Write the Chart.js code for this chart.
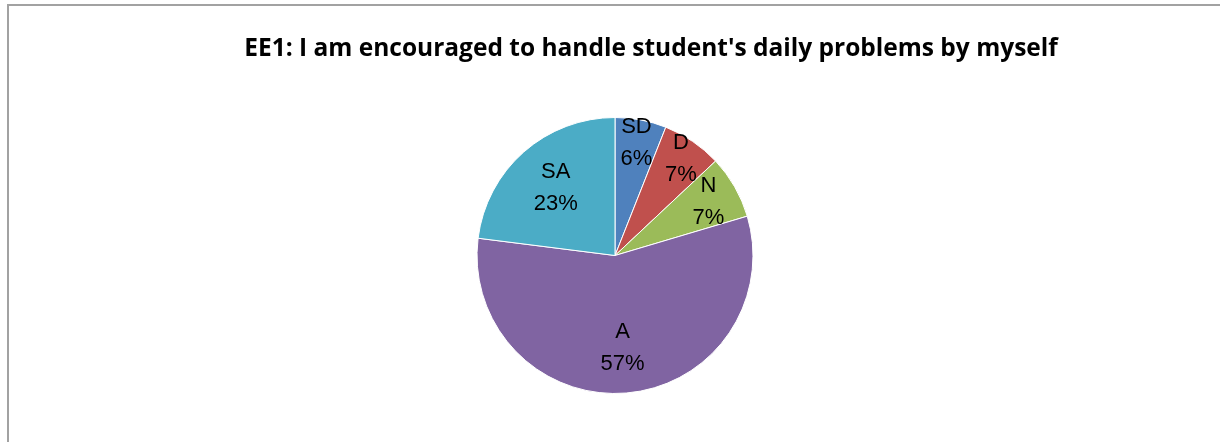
<!DOCTYPE html>
<html>
<head>
<meta charset="utf-8">
<script src="https://cdn.jsdelivr.net/npm/chart.js@4/dist/chart.umd.min.js"></script>
<style>
    body { margin: 0; background: #fff; overflow: hidden; }
    #wrap { position: relative; width: 1220px; height: 442px; overflow: hidden; }
    #frame { position: absolute; left: 7px; top: 4px; width: 1300px; height: 500px; border: 2px solid #a2a2a2; }
    #chart { position: absolute; left: 0; top: 0; }
</style>
</head>
<body>
<div id="wrap">
    <div id="frame"></div>
    <canvas id="chart" width="1220" height="442"></canvas>
</div>
<script>
const titleText = "EE1: I am encouraged to handle student's daily problems by myself";
const categories = ['SD', 'D', 'N', 'A', 'SA'];
const values = [6.0, 7.0, 7.4, 56.6, 23.0];
const colors = ['#4f81bd', '#c0504d', '#9bbb59', '#8064a2', '#4bacc6'];
// how far out each label sits (fraction of radius), like excel's best fit
const labelDist = [0.83, 0.85, 0.78, 0.67, 0.65];

// built-in title squeezes text to the chart box width, so draw it here
const chartTitle = {
    id: 'chartTitle',
    afterDraw(chart, args, opts) {
        let ctx = chart.ctx;
        let area = chart.chartArea;
        ctx.save();
        ctx.font = 'bold 24.5px "Open Sans", sans-serif';
        ctx.fillStyle = '#000';
        ctx.textAlign = 'center';
        ctx.textBaseline = 'alphabetic';
        ctx.fillText(opts.text, (area.left + area.right) / 2 + opts.shiftX, opts.baseline);
        ctx.restore();
    }
};

const pieLabels = {
    id: 'pieLabels',
    afterDatasetsDraw(chart) {
        let ctx = chart.ctx;
        let meta = chart.getDatasetMeta(0);
        let total = values.reduce((a, b) => a + b, 0);
        ctx.save();
        ctx.font = '22px "Liberation Sans", Arial, sans-serif';
        ctx.fillStyle = '#000';
        ctx.textAlign = 'center';
        ctx.textBaseline = 'middle';
        meta.data.forEach((arc, i) => {
            let p = arc.getProps(['x', 'y', 'startAngle', 'endAngle', 'outerRadius'], true);
            let mid = (p.startAngle + p.endAngle) / 2;
            let r = p.outerRadius * labelDist[i];
            let cx = p.x + Math.cos(mid) * r;
            let cy = p.y + Math.sin(mid) * r;
            let pct = Math.round(values[i] / total * 100) + '%';
            ctx.fillText(categories[i], cx, cy - 16);
            ctx.fillText(pct, cx, cy + 16);
        });
        ctx.restore();
    }
};

const chart = document.getElementById('chart');
const myChart = new Chart(chart.getContext('2d'), {
    type: 'pie',
    data: {
        labels: categories,
        datasets: [{
            data: values,
            backgroundColor: colors,
            borderColor: '#ffffff',
            borderWidth: 1
        }]
    },
    options: {
        responsive: false,
        animation: false,
        layout: { padding: { left: 247, right: 237, top: 117, bottom: 48 } },
        plugins: {
            legend: { display: false },
            tooltip: { enabled: false },
            title: { display: false },
            chartTitle: { text: titleText, shiftX: 36, baseline: 56 }
        }
    },
    plugins: [pieLabels, chartTitle]
});
</script>
</body>
</html>
